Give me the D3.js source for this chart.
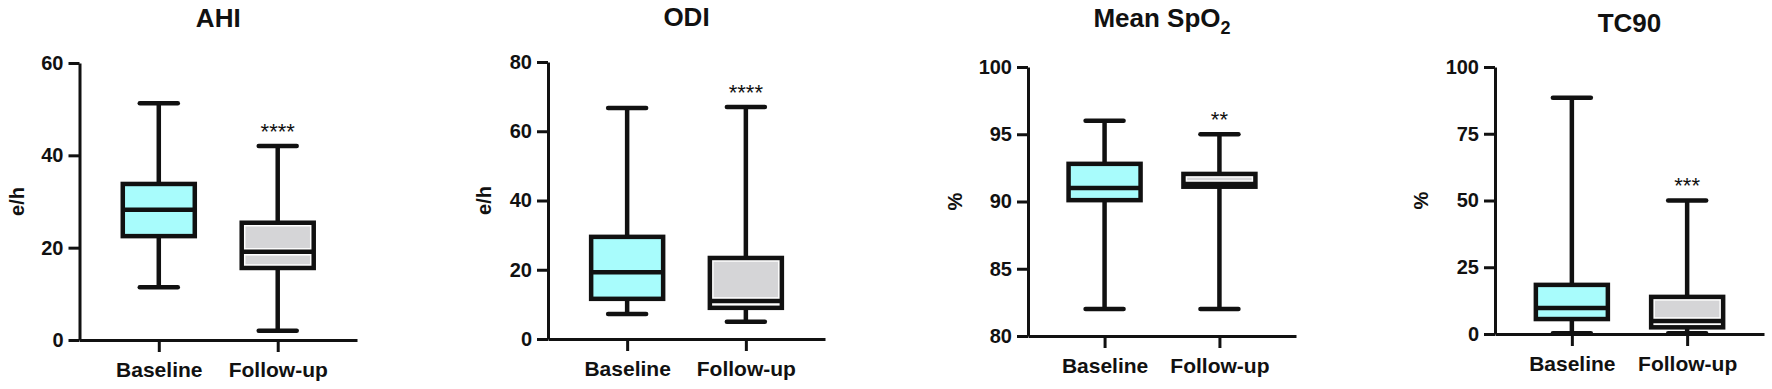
<!DOCTYPE html>
<html>
<head>
<meta charset="utf-8">
<script src="https://cdn.jsdelivr.net/npm/d3@7"></script>
<style>
  body { margin: 0; background: #fff; }
  svg { display: block; }
</style>
</head>
<body>
<svg id="chart" width="1772" height="389"></svg>
<script>
// ---- data ----
const groups = ["Baseline", "Follow-up"];
const metrics = ["AHI", "ODI", "Mean SpO2", "TC90"];
const units = ["e/h", "e/h", "%", "%"];
const yDomains = [[0, 60], [0, 80], [80, 100], [0, 100]];
const yTicks = [[0, 20, 40, 60], [0, 20, 40, 60, 80], [80, 85, 90, 95, 100], [0, 25, 50, 75, 100]];
// five-number summaries: [min, q1, median, q3, max]
const baselineStats = [
  [11.4, 22.5, 28.2, 33.8, 51.3],
  [7.2, 11.6, 19.3, 29.5, 66.7],
  [82.0, 90.1, 91.0, 92.8, 96.0],
  [0.3, 5.6, 9.7, 18.4, 88.5]
];
const followupStats = [
  [2.0, 15.6, 19.1, 25.4, 42.0],
  [5.0, 9.0, 11.0, 23.4, 67.0],
  [82.0, 91.1, 91.3, 92.05, 95.0],
  [0.3, 2.5, 4.9, 13.9, 50.0]
];
const significance = ["****", "****", "**", "***"];

// ---- layout ----
const frames = [
  { left: 79.5, right: 357, top: 63, bottom: 340, titleY: 27, labelGap: 55.5 },
  { left: 548, right: 825, top: 62, bottom: 339, titleY: 26, labelGap: 57 },
  { left: 1028, right: 1296, top: 67, bottom: 336, titleY: 27, labelGap: 66 },
  { left: 1495, right: 1764, top: 67, bottom: 334, titleY: 32, labelGap: 67 }
];
const FONT = "'Liberation Sans', Arial, Helvetica, sans-serif";
const fills = ["#a8fcfc", "#d5d5d7"];
const boxHalf = 36, capHalf = 19, boxStroke = 4.5;

const svg = d3.select("#chart");

metrics.forEach((name, i) => {
  const f = frames[i];
  const g = svg.append("g");
  const x = d3.scalePoint().domain(groups).range([f.left, f.right]).padding(2 / 3);
  const y = d3.scaleLinear().domain(yDomains[i]).range([f.bottom, f.top]);

  // title (SpO2 gets a subscript)
  const title = g.append("text")
    .attr("x", (f.left + f.right) / 2).attr("y", f.titleY)
    .attr("text-anchor", "middle")
    .style("font-family", FONT).style("font-weight", "bold").style("font-size", "26px")
    .attr("fill", "#111");
  const m = name.match(/^(.*)(\d)$/);
  if (name.startsWith("Mean") && m) {
    title.append("tspan").text(m[1]);
    title.append("tspan").text(m[2]).style("font-size", "18px").attr("dy", 7);
  } else {
    title.text(name);
  }

  // y axis
  const yAxis = g.append("g").attr("transform", `translate(${f.left},0)`)
    .call(d3.axisLeft(y).tickValues(yTicks[i]).tickSize(11).tickSizeOuter(0).tickPadding(5));
  // x axis
  const xAxis = g.append("g").attr("transform", `translate(0,${f.bottom})`)
    .call(d3.axisBottom(x).tickSize(12).tickSizeOuter(0).tickPadding(10));

  [yAxis, xAxis].forEach(a => {
    a.selectAll("path, line").attr("stroke", "#111").attr("stroke-width", 3);
    a.selectAll("text").attr("fill", "#111")
      .style("font-family", FONT).style("font-weight", "bold");
  });
  yAxis.selectAll("text").style("font-size", "20px");
  xAxis.selectAll("text").style("font-size", "21px");

  // y axis label
  g.append("text")
    .attr("transform", `translate(${f.left - f.labelGap},${(f.top + f.bottom) / 2}) rotate(-90)`)
    .attr("text-anchor", "middle")
    .style("font-family", FONT).style("font-weight", "bold").style("font-size", "20px")
    .attr("fill", "#111")
    .text(units[i]);

  // boxes
  [baselineStats[i], followupStats[i]].forEach((s, k) => {
    const cx = x(groups[k]);
    const [mn, q1, md, q3, mx] = s;
    const bg = g.append("g");
    // whisker
    bg.append("line").attr("x1", cx).attr("x2", cx).attr("y1", y(mn)).attr("y2", y(mx))
      .attr("stroke", "#111").attr("stroke-width", boxStroke);
    [mn, mx].forEach(v => {
      bg.append("line").attr("x1", cx - capHalf).attr("x2", cx + capHalf)
        .attr("y1", y(v)).attr("y2", y(v))
        .attr("stroke", "#111").attr("stroke-width", boxStroke).attr("stroke-linecap", "round");
    });
    // box body
    if (k === 0) {
      bg.append("rect").attr("x", cx - boxHalf).attr("y", y(q3))
        .attr("width", boxHalf * 2).attr("height", y(q1) - y(q3))
        .attr("fill", fills[0]);
    } else {
      bg.append("rect").attr("x", cx - boxHalf).attr("y", y(q3))
        .attr("width", boxHalf * 2).attr("height", y(q1) - y(q3))
        .attr("fill", "#fff");
      const inset = boxStroke / 2 + 1.5;
      [[q3, md], [md, q1]].forEach(([a, b]) => {
        const h = y(b) - y(a) - inset * 2;
        if (h > 0) {
          bg.append("rect").attr("x", cx - boxHalf + inset).attr("y", y(a) + inset)
            .attr("width", boxHalf * 2 - inset * 2).attr("height", h)
            .attr("fill", fills[1]);
        }
      });
    }
    bg.append("rect").attr("x", cx - boxHalf).attr("y", y(q3))
      .attr("width", boxHalf * 2).attr("height", y(q1) - y(q3))
      .attr("fill", "none").attr("stroke", "#111").attr("stroke-width", boxStroke);
    bg.append("line").attr("x1", cx - boxHalf).attr("x2", cx + boxHalf)
      .attr("y1", y(md)).attr("y2", y(md))
      .attr("stroke", "#111").attr("stroke-width", boxStroke);

    // significance marker above follow-up whisker
    if (k === 1) {
      g.append("text").attr("x", cx).attr("y", y(mx) - 7.5)
        .attr("text-anchor", "middle")
        .style("font-family", FONT).style("font-size", "22px")
        .attr("fill", "#111")
        .text(significance[i]);
    }
  });
});
</script>
</body>
</html>
